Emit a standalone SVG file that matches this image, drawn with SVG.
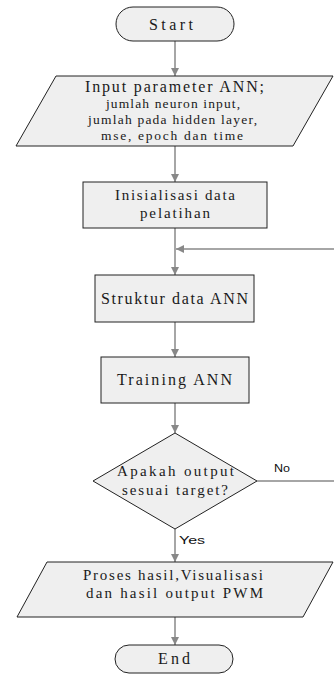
<svg xmlns="http://www.w3.org/2000/svg" width="334" height="675" viewBox="0 0 334 675">
<style>
.shape{fill:#efefef;stroke:#222;stroke-width:1}
text.t{font-family:'Liberation Serif','Times New Roman','DejaVu Serif',serif;font-size:16px;fill:#1a1a1a;text-anchor:middle}
text.s{font-size:13.5px}
text.m{font-size:15px}
text.lbl{font-family:'Liberation Sans',Arial,sans-serif;font-size:11.5px;fill:#111}
.c{stroke:#888;stroke-width:1.5;fill:none}
</style>
<defs>
<marker id="ah" viewBox="0 0 10 10" refX="10" refY="5" markerWidth="8" markerHeight="8" markerUnits="userSpaceOnUse" orient="auto">
<path d="M0,0 L10,5 L0,10 z" fill="#888"/>
</marker>
</defs>
<rect width="334" height="675" fill="#fff"/>
<g id="connectors">
<line class="c" x1="175" y1="41" x2="175" y2="76" marker-end="url(#ah)"/>
<line class="c" x1="175" y1="146" x2="175" y2="182" marker-end="url(#ah)"/>
<line class="c" x1="175" y1="228" x2="175" y2="275" marker-end="url(#ah)"/>
<line class="c" x1="334" y1="249" x2="176" y2="249" marker-end="url(#ah)"/>
<line class="c" x1="175" y1="322" x2="175" y2="357" marker-end="url(#ah)"/>
<line class="c" x1="175" y1="403" x2="175" y2="433" marker-end="url(#ah)"/>
<line class="c" x1="257" y1="481" x2="334" y2="481"/>
<line class="c" x1="175" y1="529" x2="175" y2="562" marker-end="url(#ah)"/>
<line class="c" x1="175" y1="617" x2="175" y2="645" marker-end="url(#ah)"/>
<text class="lbl" x="274" y="472" textLength="16" lengthAdjust="spacingAndGlyphs">No</text>
<text class="lbl" x="179" y="544" textLength="26" lengthAdjust="spacingAndGlyphs">Yes</text>
</g>
<g id="start">
<rect class="shape" x="116" y="7" width="118" height="34" rx="17"/>
<text class="t" x="171" y="30" textLength="44">Start</text>
</g>
<g id="input">
<polygon class="shape" points="56,76 333,76 293,146 16,146"/>
<text class="t" x="174.5" y="92" textLength="179">Input parameter ANN;</text>
<text class="t s" x="173" y="108" textLength="134">jumlah neuron input,</text>
<text class="t s" x="172.5" y="124" textLength="169">jumlah pada hidden layer,</text>
<text class="t s" x="172" y="140" textLength="142">mse, epoch dan time</text>
</g>
<g id="init">
<rect class="shape" x="83" y="182" width="184" height="46"/>
<text class="t m" x="175" y="200" textLength="120">Inisialisasi data</text>
<text class="t m" x="175" y="218" textLength="70">pelatihan</text>
</g>
<g id="struktur">
<rect class="shape" x="95" y="275" width="159" height="47"/>
<text class="t" x="174.5" y="304" textLength="147">Struktur data ANN</text>
</g>
<g id="training">
<rect class="shape" x="101" y="357" width="148" height="46"/>
<text class="t" x="174.5" y="385" textLength="115">Training ANN</text>
</g>
<g id="decision">
<polygon class="shape" points="175,433 257,481 175,529 93,481"/>
<text class="t m" x="175.5" y="476" textLength="117">Apakah output</text>
<text class="t m" x="175" y="495" textLength="106">sesuai target?</text>
</g>
<g id="output">
<polygon class="shape" points="47,562 333,562 303,617 17,617"/>
<text class="t m" x="173" y="580" textLength="180">Proses hasil,Visualisasi</text>
<text class="t m" x="174.5" y="598" textLength="177">dan hasil output PWM</text>
</g>
<g id="end">
<rect class="shape" x="115" y="645" width="118" height="28" rx="14"/>
<text class="t" x="174" y="664" textLength="32">End</text>
</g>
</svg>
